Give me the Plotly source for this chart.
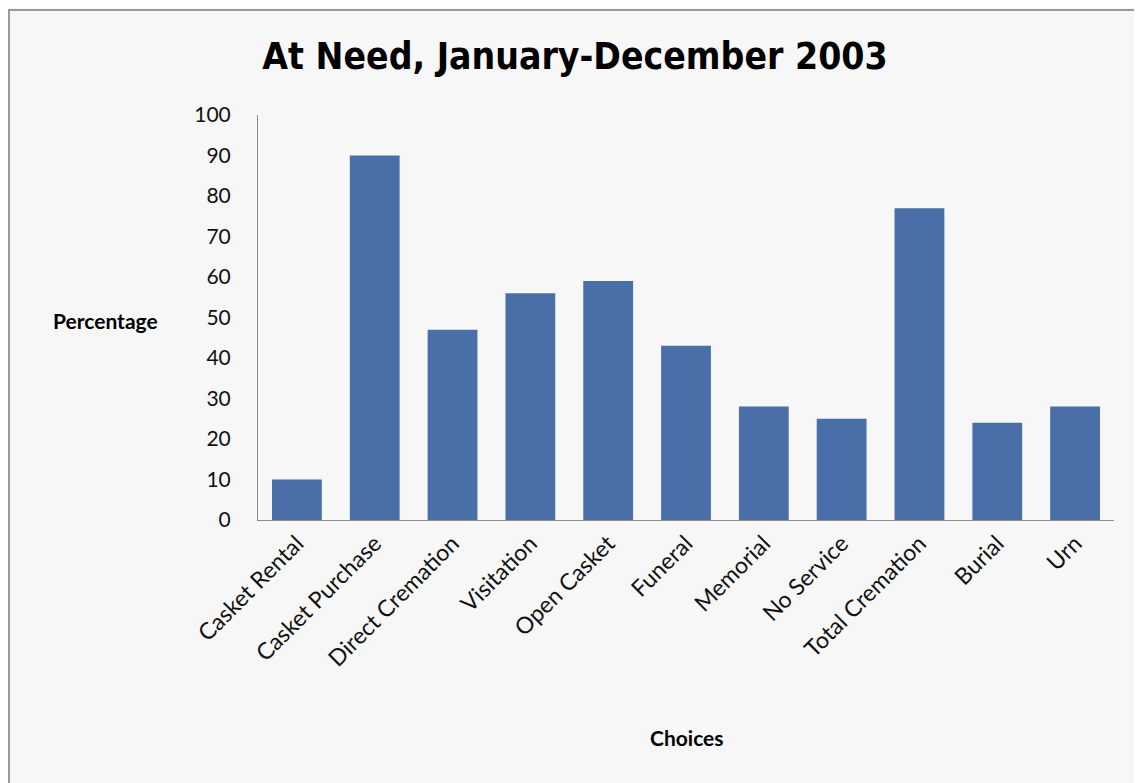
import plotly.graph_objects as go

categories = ["Casket Rental", "Casket Purchase", "Direct Cremation", "Visitation",
              "Open Casket", "Funeral", "Memorial", "No Service", "Total Cremation",
              "Burial", "Urn"]
values = [10, 90, 47, 56, 59, 43, 28, 25, 77, 24, 28]
y_ticks = [0, 10, 20, 30, 40, 50, 60, 70, 80, 90, 100]

OFF = 8  # page body margin
W, H = 1142 - OFF, 783 - OFF
ml, mr, mt = 258 - OFF, 28, 115 - OFF
mb = H - (520 - OFF)
pw, ph = W - ml - mr, H - mt - mb

def px(x):
    return (x - OFF - ml) / pw

def py(y):
    return (H - mb - (y - OFF)) / ph

fig = go.Figure(go.Bar(
    x=categories, y=values,
    marker=dict(color="#4a6fa8", line=dict(width=0)),
    width=0.64,
))

tick_font = dict(family="Lato, Open Sans, sans-serif", size=21, color="#111111")

fig.update_layout(
    width=W, height=H,
    margin=dict(l=ml, r=mr, t=mt, b=mb),
    paper_bgcolor="#f7f7f7", plot_bgcolor="#f7f7f7",
    showlegend=False,
    title=dict(text="<b>At Need, January-December 2003</b>", x=(575 - OFF) / W, xanchor="center",
               y=1 - (56 - OFF) / H, yanchor="middle",
               font=dict(family="DejaVu Sans Condensed, Liberation Sans Narrow, sans-serif",
                         size=37, color="#000000")),
    xaxis=dict(showline=True, linecolor="#8c8c8c", linewidth=1, showgrid=False,
               tickangle=-45, tickfont=dict(family="Lato, Open Sans, sans-serif", size=23, color="#111111"),
               ticks="", range=[-0.5, 10.5]),
    yaxis=dict(showline=True, linecolor="#8c8c8c", linewidth=1, showgrid=False,
               range=[0, 100], tickvals=y_ticks, tickfont=tick_font, ticks="",
               ticklabelstandoff=22, zeroline=False),
    annotations=[
        dict(text="<b>Percentage</b>", xref="paper", yref="paper",
             x=px(105), y=py(320), xanchor="center", yanchor="middle",
             showarrow=False, font=dict(family="Lato, Open Sans, sans-serif", size=21, color="#000")),
        dict(text="<b>Choices</b>", xref="paper", yref="paper",
             x=px(687), y=py(737), xanchor="center", yanchor="middle",
             showarrow=False, font=dict(family="Lato, Open Sans, sans-serif", size=21, color="#000")),
    ],
    shapes=[
        dict(type="rect", xref="paper", yref="paper",
             x0=px(9), x1=px(1137), y0=py(795), y1=py(10),
             line=dict(color="#9a9a9a", width=2), fillcolor="rgba(0,0,0,0)", layer="below"),
    ],
)

fig.write_html("out.html")
